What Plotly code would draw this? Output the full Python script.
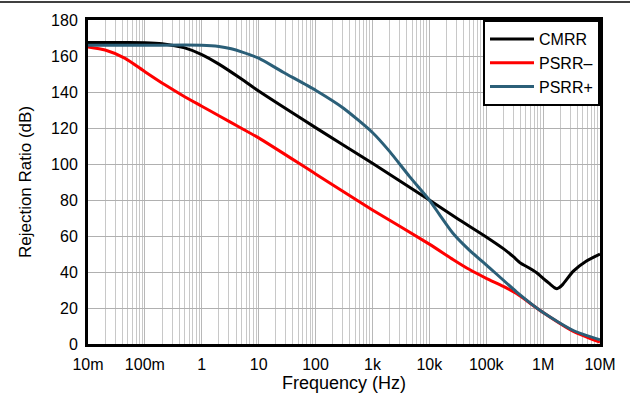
import plotly.graph_objects as go

# ---- data ----
cmrr_f = [0.01, 0.05, 0.1, 0.2, 0.5, 1, 2, 5, 10, 100, 1e3, 1e4,
          3e4, 1e5, 2e5, 3e5, 4e5, 5.5e5, 7.7e5, 1e6, 1.3e6, 1.6e6, 1.75e6, 1.9e6, 2.2e6, 3.4e6, 5.7e6, 1e7]
cmrr_db = [167.5, 167.5, 167.4, 166.8, 164.5, 160.8, 155.5, 147.2, 140.5, 120.2, 100.4, 80.0,
           70.0, 59.5, 53.0, 48.5, 45.0, 42.5, 39.6, 36.5, 33.5, 31.2, 30.7, 31.2, 33.0, 40.5, 46.0, 50.0]

psrrm_f = [0.01, 0.02, 0.045, 0.1, 0.225, 0.5, 1, 2, 4.7, 10, 100, 1e3, 1e4, 2.6e4, 5e4,
           1e5, 2e5, 3.4e5, 1e6, 3.4e6, 1e7]
psrrm_db = [165.0, 163.3, 158.7, 151.3, 144.0, 137.4, 132.1, 126.8, 120.3, 114.5, 94.5, 74.5, 55.5,
            47.0, 41.5, 36.5, 32.0, 28.0, 17.5, 7.0, 1.0]

psrrp_f = [0.01, 0.1, 1, 2, 3.3, 5, 10, 27, 100, 310, 1e3, 2e3, 4.5e3, 1e4, 1.5e4, 2.6e4, 5.1e4, 1e5,
           3.4e5, 1e6, 3.4e6, 1e7]
psrrp_db = [166.0, 166.0, 166.0, 165.3, 164.0, 162.3, 158.8, 151.0, 141.0, 131.0, 117.5, 107.0, 93.0,
            80.0, 72.0, 61.5, 52.0, 44.0, 29.0, 17.5, 7.5, 2.3]

tick_vals = [0.01, 0.1, 1, 10, 100, 1e3, 1e4, 1e5, 1e6, 1e7]
tick_text = ["10m", "100m", "1", "10", "100", "1k", "10k", "100k", "1M", "10M"]
y_ticks = [0, 20, 40, 60, 80, 100, 120, 140, 160, 180]

FONT = "Liberation Sans, Arial, sans-serif"

fig = go.Figure()
fig.add_trace(go.Scatter(x=cmrr_f, y=cmrr_db, mode="lines", name="CMRR",
                         line=dict(color="#000000", width=3, shape="spline", smoothing=0.6)))
fig.add_trace(go.Scatter(x=psrrm_f, y=psrrm_db, mode="lines", name="PSRR\u2013",
                         line=dict(color="#ff0000", width=3, shape="spline", smoothing=0.6)))
fig.add_trace(go.Scatter(x=psrrp_f, y=psrrp_db, mode="lines", name="PSRR+",
                         line=dict(color="#2b5f78", width=3, shape="spline", smoothing=0.6)))

fig.update_layout(
    width=630, height=398,
    margin=dict(l=88, r=30, t=20, b=54, autoexpand=False),
    paper_bgcolor="white", plot_bgcolor="white",
    font=dict(family=FONT, size=16, color="#000000"),
    showlegend=True,
    legend=dict(x=1, y=1, xanchor="right", yanchor="top", bgcolor="white",
                bordercolor="#000000", borderwidth=2, font=dict(size=16),
                tracegroupgap=0, itemwidth=44),
    xaxis=dict(type="log", range=[-2, 7], tickvals=tick_vals, ticktext=tick_text,
               automargin=False,
               showgrid=True, gridcolor="#b8b8b8", gridwidth=1,
               minor=dict(showgrid=True, gridcolor="#c8c8c8", gridwidth=1, dtick="D1"),
               showline=True, mirror=True, linecolor="#000000", linewidth=3,
               ticks="outside", ticklen=4, tickcolor="rgba(0,0,0,0)", zeroline=False,
               title=dict(text="Frequency (Hz)", font=dict(size=18), standoff=4),
               tickfont=dict(size=16)),
    yaxis=dict(range=[0, 180], tickvals=y_ticks, automargin=False,
               showgrid=True, gridcolor="#b0b0b0", gridwidth=1,
               showline=True, mirror=True, linecolor="#000000", linewidth=3,
               ticks="outside", ticklen=4, tickcolor="rgba(0,0,0,0)", zeroline=False,
               title=dict(text="Rejection Ratio (dB)", font=dict(size=17), standoff=16),
               tickfont=dict(size=16)),
)

# page top rule
fig.add_shape(type="line", xref="paper", yref="paper",
              x0=-88/512, x1=(630-88)/512, y0=(344-2)/324, y1=(344-2)/324,
              line=dict(color="#000000", width=1.5))

fig.write_html("out.html")
